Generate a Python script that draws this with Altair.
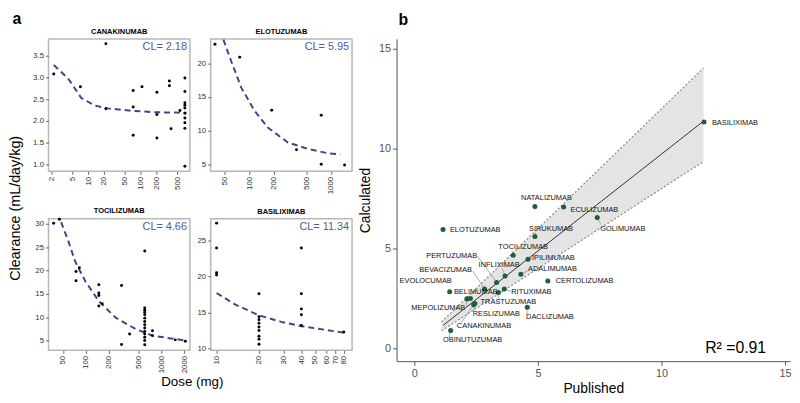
import altair as alt
import pandas as pd

FONT = "Liberation Sans"
CURVE_COLOR = "#44448e"
CL_COLOR = "#4f5ba0"

# ---------------- panel a data ----------------
can_dose = [2.2, 7.1, 21.8, 21.8, 72.6, 72.6, 72.6, 107, 206, 206, 206, 357, 357, 384, 568,
            705, 705, 705, 705, 705, 705, 705, 705, 705, 705]
can_cl = [3.08, 2.79, 3.78, 2.28, 2.70, 2.32, 1.67, 2.79, 2.66, 2.15, 1.61, 2.92, 2.81, 1.82, 2.24,
          2.99, 2.68, 2.42, 2.36, 2.30, 2.18, 2.07, 1.96, 1.83, 0.96]
can_curve_dose = [2.2, 4.13, 7.4, 13.1, 23.5, 74.8, 206, 759]
can_curve_cl = [3.29, 2.98, 2.53, 2.36, 2.29, 2.23, 2.20, 2.19]

elo_dose = [37.8, 76, 188, 378, 760, 760, 1470]
elo_cl = [22.8, 20.9, 13.04, 7.19, 12.3, 5.04, 4.94]
elo_curve_dose = [48, 60, 79.8, 116, 168, 294, 514, 900, 1303]
elo_curve_cl = [23.5, 20.25, 16.35, 12.94, 10.5, 8.3, 7.34, 6.7, 6.5]

toc_dose = [37.7, 45, 74.5, 82.4, 74.5, 149, 149, 149, 165, 149, 297, 297, 380, 601,
            601, 601, 601, 601, 601, 601, 601, 601, 601, 601, 601, 601, 601,
            760, 760, 1520, 2065]
toc_cl = [30.15, 31.0, 19.8, 20.6, 17.8, 16.98, 15.2, 14.65, 12.9, 12.4, 16.8, 4.14, 6.4, 24.2,
          12.0, 11.5, 11.0, 10.5, 9.8, 9.07, 8.4, 7.7, 6.96, 6.4, 5.7, 5.0, 4.1,
          7.1, 6.05, 5.14, 4.84]
toc_curve_dose = [47.4, 59.6, 72.8, 98.8, 149, 248, 456, 760, 1265, 2100]
toc_curve_cl = [30.4, 26.1, 21.9, 17.7, 13.45, 9.9, 7.46, 6.05, 5.5, 5.0]

bas_dose = [10, 10, 10, 10, 20, 20, 20, 20, 20, 20, 20, 20, 20, 40, 40, 40, 40, 40, 80]
bas_cl = [27.4, 23.94, 20.5, 20.2, 17.6, 14.4, 14.0, 13.5, 13.0, 12.5, 11.7, 11.3, 10.6,
          23.94, 17.6, 15.5, 14.7, 13.2, 12.3]
bas_curve_dose = [10, 13.6, 20, 28.8, 40, 80]
bas_curve_cl = [17.7, 16.1, 14.6, 13.7, 13.1, 12.2]

# ---------------- panel b data ----------------
names = ["BASILIXIMAB", "NATALIZUMAB", "ECULIZUMAB", "GOLIMUMAB", "ELOTUZUMAB", "SIRUKUMAB",
         "TOCILIZUMAB", "IPILIMUMAB", "PERTUZUMAB", "INFLIXIMAB", "ADALIMUMAB", "BEVACIZUMAB",
         "CERTOLIZUMAB", "EVOLOCUMAB", "BELIMUMAB", "RITUXIMAB", "TRASTUZUMAB", "MEPOLIZUMAB",
         "RESLIZUMAB", "DACLIZUMAB", "CANAKINUMAB", "OBINUTUZUMAB"]
published = [11.72, 4.88, 6.04, 7.4, 1.16, 4.88, 4.0, 4.6, 3.33, 3.67, 4.31, 2.84,
             5.4, 1.43, 2.27, 3.64, 3.4, 2.13, 2.45, 4.57, 2.4, 1.47]
calculated = [11.34, 7.1, 7.08, 6.55, 5.95, 5.6, 4.66, 4.46, 3.3, 3.63, 3.71, 2.97,
              3.38, 2.84, 2.5, 2.97, 2.8, 2.48, 2.25, 2.06, 2.18, 0.9]
label_x = [12.04, 4.32, 6.32, 7.52, 1.44, 4.64, 3.4, 4.76, 0.48, 2.6, 4.6, 0.2,
           5.72, -0.6, 1.6, 3.92, 2.68, -0.12, 2.36, 4.52, 1.72, 1.16]
label_y = [11.29, 7.52, 6.93, 5.99, 5.94, 5.99, 5.1, 4.55, 4.65, 4.16, 3.96, 3.91,
           3.37, 3.37, 2.82, 2.82, 2.33, 2.03, 1.73, 1.58, 1.14, 0.4]
seg_x = [11.72, 4.88, 6.04, 7.55, 1.16, 4.9, 3.95, 4.76, 2.56, 3.55, 4.6, 2.36,
         5.4, 1.43, 2.27, 3.92, 3.4, 2.1, 2.4, 4.55, 1.9, 1.4]
seg_y = [11.34, 7.1, 7.08, 6.2, 5.95, 5.8, 4.9, 4.5, 4.62, 4.0, 3.9, 3.88,
         3.38, 2.84, 2.5, 2.85, 2.48, 2.15, 1.85, 1.72, 1.28, 0.55]

band_x = [1.1, 11.7]
band_lower = [0.88, 9.36]
band_upper = [1.32, 14.04]
fit_x = [1.16, 11.72]
fit_y = [1.15, 11.4]
r2_text = "R\u00b2 =0.91"


def small_panel(name, dose, cl, cdose, ccl, cl_text, xdom, ydom, xticks, yticks, yfmt, h):
    pts = pd.DataFrame({"dose": dose, "cl": cl})
    crv = pd.DataFrame({"dose": cdose, "cl": ccl})
    txt = pd.DataFrame({"dose": [xdom[1]], "cl": [ydom[1]], "t": [cl_text]})
    xs = alt.Scale(type="log", domain=xdom, nice=False)
    ys = alt.Scale(domain=ydom, nice=False, zero=False)
    xax = alt.Axis(values=xticks, labelAngle=270, labelAlign="right", labelBaseline="middle",
                   format="d", labelFontSize=8, labelColor="#333", tickColor="#666",
                   tickSize=3, domain=False, grid=False, labelPadding=2, labelFlush=False)
    yax = alt.Axis(values=yticks, format=yfmt, labelFontSize=8, labelColor="#333",
                   tickColor="#666", tickSize=3, domain=False, grid=False, labelPadding=2)
    X = alt.X("dose:Q", scale=xs, axis=xax, title=None)
    Y = alt.Y("cl:Q", scale=ys, axis=yax, title=None)
    c = alt.Chart(crv).mark_line(color=CURVE_COLOR, strokeDash=[6, 4], strokeWidth=2,
                                 clip=True).encode(x=X, y=Y)
    p = alt.Chart(pts).mark_circle(size=9, color="black", opacity=1).encode(x=X, y=Y)
    t = alt.Chart(txt).mark_text(align="right", baseline="top", dx=-3, dy=2, fontSize=11,
                                 color=CL_COLOR).encode(x=X, y=Y, text="t:N")
    return alt.layer(c, p, t).properties(
        width=143, height=h,
        title=alt.Title(name, fontSize=7.5, fontWeight="bold", offset=3, color="black"),
        view=alt.ViewBackground(stroke="#b8b8b8", strokeWidth=1.5),
    )


c1 = small_panel("CANAKINUMAB", can_dose, can_cl, can_curve_dose, can_curve_cl, "CL= 2.18",
                 [1.75, 880], [0.84, 3.89], [2, 5, 10, 20, 50, 100, 200, 500],
                 [1.0, 1.5, 2.0, 2.5, 3.0, 3.5], ".1f", 134)
c2 = small_panel("ELOTUZUMAB", elo_dose, elo_cl, elo_curve_dose, elo_curve_cl, "CL= 5.95",
                 [33.5, 1815], [4.0, 23.6], [50, 100, 200, 500, 1000],
                 [5, 10, 15, 20], "d", 134)
c3 = small_panel("TOCILIZUMAB", toc_dose, toc_cl, toc_curve_dose, toc_curve_cl, "CL= 4.66",
                 [32.3, 2373], [2.9, 31.1], [50, 100, 200, 500, 1000, 2000],
                 [5, 10, 15, 20, 25, 30], "d", 133)
c4 = small_panel("BASILIXIMAB", bas_dose, bas_cl, bas_curve_dose, bas_curve_cl, "CL= 11.34",
                 [9.08, 91.6], [9.75, 28], [10, 20, 30, 40, 50, 60, 70, 80],
                 [10, 15, 20, 25], "d", 133)

grid = alt.vconcat(
    alt.hconcat(c1, c2, spacing=5),
    alt.hconcat(c3, c4, spacing=5),
    spacing=11,
)
with_dose = alt.vconcat(grid, title=alt.Title("Dose (mg)", orient="bottom", anchor="middle",
                                              fontSize=13.5, fontWeight="normal", offset=2,
                                              color="black"))
with_cl = alt.vconcat(with_dose, title=alt.Title("Clearance (mL/day/kg)", orient="left",
                                                 anchor="middle", fontSize=14.5,
                                                 fontWeight="normal", offset=8, color="black"))
panel_a = alt.vconcat(with_cl, title=alt.Title("a", anchor="start", fontSize=16,
                                               fontWeight="bold", offset=1, dx=4, color="black"))

# ---------------- panel b ----------------
pts_b = pd.DataFrame({"name": names, "pub": published, "calc": calculated,
                      "lx": label_x, "ly": label_y, "sx": seg_x, "sy": seg_y})
band = pd.DataFrame({"x": band_x, "lo": band_lower, "hi": band_upper})
fit = pd.DataFrame({"x": fit_x, "y": fit_y})
r2 = pd.DataFrame({"x": [13.0], "y": [0.0], "t": [r2_text]})

xsb = alt.Scale(domain=[-0.72, 15.2], nice=False, zero=False)
ysb = alt.Scale(domain=[-0.64, 15.5], nice=False, zero=False)
xaxb = alt.Axis(values=[0, 5, 10, 15], format="d", labelFontSize=11, labelColor="#555",
                domainColor="#555", tickColor="#555", tickSize=4, grid=False,
                titleFontSize=14, titleFontWeight="normal", titleColor="black", titlePadding=4)
yaxb = alt.Axis(values=[0, 5, 10, 15], format="d", labelFontSize=11, labelColor="#555",
                domainColor="#555", tickColor="#555", tickSize=4, grid=False,
                titleFontSize=14, titleFontWeight="normal", titleColor="black", titlePadding=6)
XB = alt.X("x:Q", scale=xsb, axis=xaxb, title="Published")
YB = alt.Y("y:Q", scale=ysb, axis=yaxb, title="Calculated")

band_area = alt.Chart(band).mark_area(color="#e4e4e4", opacity=1).encode(
    x=XB, y=alt.Y("lo:Q", scale=ysb, axis=yaxb, title="Calculated"), y2="hi:Q")
band_lo = alt.Chart(band).mark_line(color="#8a8a8a", strokeDash=[2, 2], strokeWidth=1.2).encode(
    x=XB, y=alt.Y("lo:Q", scale=ysb, axis=yaxb, title="Calculated"))
band_hi = alt.Chart(band).mark_line(color="#8a8a8a", strokeDash=[2, 2], strokeWidth=1.2).encode(
    x=XB, y=alt.Y("hi:Q", scale=ysb, axis=yaxb, title="Calculated"))
fit_line = alt.Chart(fit).mark_line(color="#333", strokeWidth=1).encode(x=XB, y=YB)
XP = alt.X("pub:Q", scale=xsb, axis=xaxb, title="Published")
YP = alt.Y("calc:Q", scale=ysb, axis=yaxb, title="Calculated")
leaders = alt.Chart(pts_b).mark_rule(color="#888", strokeWidth=0.7).encode(
    x=XP, y=YP, x2="sx:Q", y2="sy:Q")
dots = alt.Chart(pts_b).mark_circle(size=26, color="#1d5e3e", opacity=1).encode(x=XP, y=YP)
labels = alt.Chart(pts_b).mark_text(align="left", baseline="middle", fontSize=7.5,
                                    color="#111").encode(
    x=alt.X("lx:Q", scale=xsb, axis=xaxb, title="Published"),
    y=alt.Y("ly:Q", scale=ysb, axis=yaxb, title="Calculated"), text="name:N")
r2_mark = alt.Chart(r2).mark_text(align="center", baseline="middle", fontSize=16,
                                  color="black").encode(x=XB, y=YB, text="t:N")

panel_b = alt.layer(band_area, band_lo, band_hi, fit_line, leaders, dots, labels, r2_mark).properties(
    width=398, height=326,
    title=alt.Title("b", anchor="start", frame="group", fontSize=16, fontWeight="bold",
                    offset=11, dx=2, color="black"),
)

chart = alt.hconcat(panel_a, panel_b, spacing=5).properties(
    padding={"left": 0, "top": 0, "right": 0, "bottom": 0}
).configure(font=FONT).configure_view(strokeWidth=0)

chart.save("out.html", embed_options={"renderer": "svg", "actions": False})
